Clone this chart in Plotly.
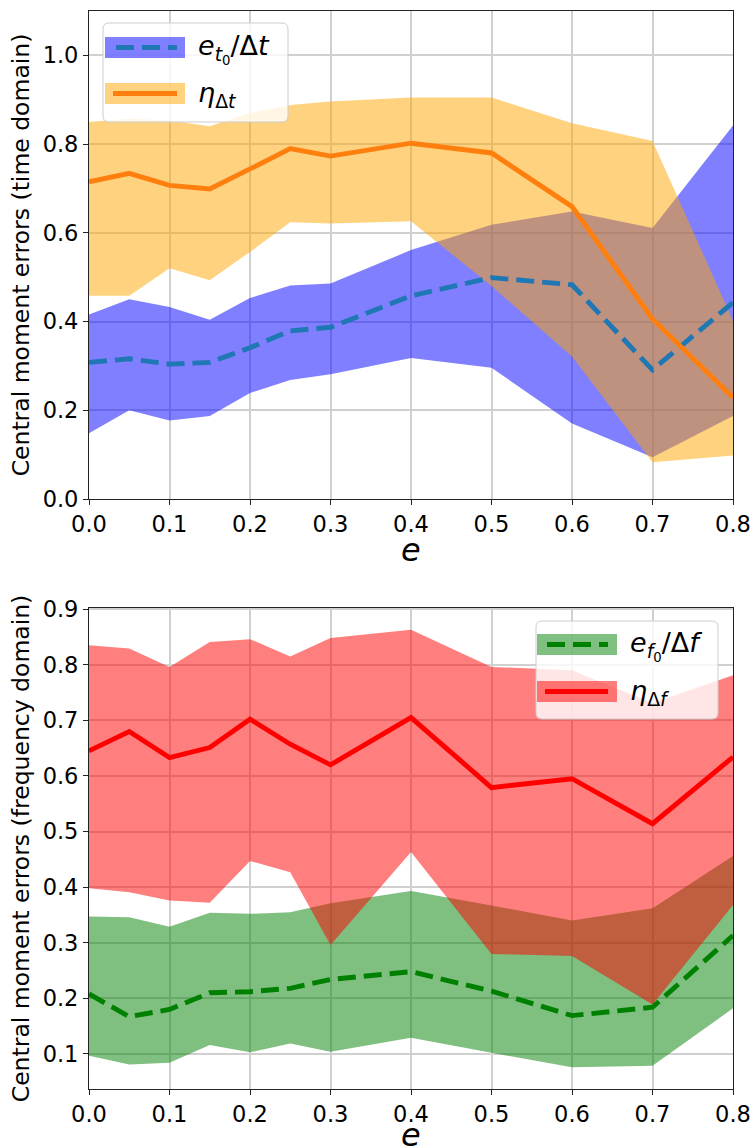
import plotly.graph_objects as go

# ---------------- data ----------------
e = [0.0, 0.05, 0.1, 0.15, 0.2, 0.25, 0.3, 0.4, 0.5, 0.6, 0.7, 0.8]

# time domain
et_mean = [0.308, 0.316, 0.304, 0.308, 0.341, 0.379, 0.387, 0.458, 0.499, 0.483, 0.291, 0.443]
et_low = [0.148, 0.200, 0.177, 0.187, 0.239, 0.268, 0.281, 0.318, 0.296, 0.170, 0.094, 0.187]
et_high = [0.416, 0.450, 0.433, 0.404, 0.453, 0.481, 0.486, 0.561, 0.618, 0.648, 0.611, 0.842]

eta_t = [0.715, 0.734, 0.707, 0.699, 0.744, 0.790, 0.773, 0.802, 0.780, 0.659, 0.406, 0.229]
eta_t_low = [0.458, 0.458, 0.520, 0.493, 0.557, 0.624, 0.621, 0.626, 0.480, 0.321, 0.083, 0.098]
eta_t_high = [0.850, 0.857, 0.853, 0.840, 0.870, 0.888, 0.896, 0.905, 0.905, 0.847, 0.807, 0.402]

# frequency domain
ef_mean = [0.208, 0.167, 0.180, 0.210, 0.212, 0.218, 0.234, 0.248, 0.213, 0.169, 0.184, 0.313]
ef_low = [0.097, 0.081, 0.084, 0.116, 0.103, 0.119, 0.104, 0.129, 0.102, 0.076, 0.079, 0.182]
ef_high = [0.347, 0.346, 0.329, 0.354, 0.352, 0.355, 0.371, 0.393, 0.367, 0.340, 0.362, 0.456]

eta_f = [0.645, 0.680, 0.633, 0.651, 0.702, 0.657, 0.620, 0.705, 0.579, 0.595, 0.514, 0.634]
eta_f_low = [0.398, 0.391, 0.376, 0.372, 0.447, 0.427, 0.296, 0.463, 0.280, 0.276, 0.189, 0.368]
eta_f_high = [0.835, 0.829, 0.796, 0.841, 0.846, 0.815, 0.848, 0.863, 0.796, 0.790, 0.731, 0.781]

x_ticks = [0.0, 0.1, 0.2, 0.3, 0.4, 0.5, 0.6, 0.7, 0.8]
y1_ticks = [0.0, 0.2, 0.4, 0.6, 0.8, 1.0]
y2_ticks = [0.1, 0.2, 0.3, 0.4, 0.5, 0.6, 0.7, 0.8, 0.9]

label_t1 = "<i>e</i><sub><i>t</i><sub>0</sub></sub>/Δ<i>t</i>"
label_t2 = "<i>η</i><sub>Δ<i>t</i></sub>"
label_f1 = "<i>e</i><sub><i>f</i><sub>0</sub></sub>/Δ<i>f</i>"
label_f2 = "<i>η</i><sub>Δ<i>f</i></sub>"
xlabel = "<i>e</i>"
ylabel_t = "Central moment errors (time domain)"
ylabel_f = "Central moment errors (frequency domain)"

# ---------------- geometry ----------------
W, H = 755, 1147
ML, MR, MT, MB = 89, 22, 11, 58
PW = W - ML - MR
PH = H - MT - MB
FONT = "DejaVu Sans"


def px(x):
    return (x - ML) / PW


def py(y):
    return (H - MB - y) / PH


BLUE_FILL = "rgba(0,0,255,0.5)"
ORANGE_FILL = "rgba(255,165,0,0.5)"
GREEN_FILL = "rgba(0,128,0,0.5)"
RED_FILL = "rgba(255,0,0,0.5)"
C_BLUE = "#1f77b4"
C_ORANGE = "#ff7f0e"
C_GREEN = "#008000"
C_RED = "#ff0000"
LW = 4.9
DASH = "18px,8px"

fig = go.Figure()


def band(x, lo, hi, color, xa, ya):
    fig.add_trace(go.Scatter(x=x, y=lo, mode="lines", line=dict(width=0, color=color),
                             showlegend=False, hoverinfo="skip", xaxis=xa, yaxis=ya))
    fig.add_trace(go.Scatter(x=x, y=hi, mode="lines", line=dict(width=0, color=color),
                             fill="tonexty", fillcolor=color, showlegend=False,
                             hoverinfo="skip", xaxis=xa, yaxis=ya))


band(e, et_low, et_high, BLUE_FILL, "x", "y")
band(e, eta_t_low, eta_t_high, ORANGE_FILL, "x", "y")
fig.add_trace(go.Scatter(x=e, y=et_mean, mode="lines", line=dict(color=C_BLUE, width=LW, dash=DASH),
                         showlegend=False, xaxis="x", yaxis="y"))
fig.add_trace(go.Scatter(x=e, y=eta_t, mode="lines", line=dict(color=C_ORANGE, width=LW),
                         showlegend=False, xaxis="x", yaxis="y"))

band(e, ef_low, ef_high, GREEN_FILL, "x2", "y2")
band(e, eta_f_low, eta_f_high, RED_FILL, "x2", "y2")
fig.add_trace(go.Scatter(x=e, y=ef_mean, mode="lines", line=dict(color=C_GREEN, width=LW, dash=DASH),
                         showlegend=False, xaxis="x2", yaxis="y2"))
fig.add_trace(go.Scatter(x=e, y=eta_f, mode="lines", line=dict(color=C_RED, width=LW),
                         showlegend=False, xaxis="x2", yaxis="y2"))

axis_common = dict(
    showline=True, mirror=True, linecolor="#222222", linewidth=1.1,
    ticks="outside", ticklen=5, tickwidth=1.1, tickcolor="#222222",
    showgrid=True, gridcolor="#d0d0d0", gridwidth=2, zeroline=False,
    tickfont=dict(family=FONT, size=22.5, color="black"),
    automargin=False,
)

fig.update_layout(
    width=W, height=H,
    margin=dict(l=ML, r=MR, t=MT, b=MB),
    paper_bgcolor="white", plot_bgcolor="white",
    showlegend=False,
    font=dict(family=FONT, color="black"),
    xaxis=dict(domain=[0, 1], anchor="y", range=[0, 0.8], tickvals=x_ticks, tickformat=".1f",
               **axis_common),
    yaxis=dict(domain=[py(499), 1], anchor="x", range=[0, 1.1], tickvals=y1_ticks, tickformat=".1f",
               title=dict(text=ylabel_t, font=dict(family=FONT, size=23.5), standoff=6),
               **axis_common),
    xaxis2=dict(domain=[0, 1], anchor="y2", range=[0, 0.8], tickvals=x_ticks, tickformat=".1f",
                **axis_common),
    yaxis2=dict(domain=[0, py(608)], anchor="x2", range=[0.037, 0.902], tickvals=y2_ticks, tickformat=".1f",
                title=dict(text=ylabel_f, font=dict(family=FONT, size=23.5), standoff=6),
                **axis_common),
)


def rounded_rect(x0, y0, x1, y1, r):
    pts = [
        ("M", [(x0 + r, y0)]), ("L", [(x1 - r, y0)]), ("Q", [(x1, y0), (x1, y0 + r)]),
        ("L", [(x1, y1 - r)]), ("Q", [(x1, y1), (x1 - r, y1)]), ("L", [(x0 + r, y1)]),
        ("Q", [(x0, y1), (x0, y1 - r)]), ("L", [(x0, y0 + r)]), ("Q", [(x0, y0), (x0 + r, y0)]),
    ]
    s = ""
    for cmd, ps in pts:
        s += cmd + " " + " ".join(f"{px(a):.5f},{py(b):.5f}" for a, b in ps) + " "
    return s + "Z"


shapes = []
annotations = []

# x-axis titles
for yc in (550, 1135):
    annotations.append(dict(text=xlabel, xref="paper", yref="paper", x=0.5, y=py(yc),
                            xanchor="center", yanchor="middle", showarrow=False,
                            height=22, valign="middle",
                            font=dict(family=FONT, size=32, color="black")))


def legend(box, items):
    bx0, by0, bx1, by1 = box
    shapes.append(dict(type="path", path=rounded_rect(bx0, by0, bx1, by1, 6), xref="paper", yref="paper",
                       fillcolor="rgba(255,255,255,0.8)", line=dict(color="#cccccc", width=1), layer="above"))
    for (hx0, hy0, hx1, hy1, fill, lcolor, dash, lx0, lx1, tx, text) in items:
        shapes.append(dict(type="rect", xref="paper", yref="paper", x0=px(hx0), x1=px(hx1), y0=py(hy1), y1=py(hy0),
                           fillcolor=fill, line=dict(width=0), layer="above"))
        ym = (hy0 + hy1) / 2
        shapes.append(dict(type="line", xref="paper", yref="paper", x0=px(lx0), x1=px(lx1), y0=py(ym), y1=py(ym),
                           line=dict(color=lcolor, width=LW, dash=dash), layer="above"))
        annotations.append(dict(text=text, xref="paper", yref="paper", x=px(tx), y=py(ym + 1),
                                xanchor="left", yanchor="middle", showarrow=False,
                                font=dict(family=FONT, size=27, color="black")))


legend((103, 23, 288, 122), [
    (105, 37, 185, 58, BLUE_FILL, C_BLUE, DASH, 116, 177, 196, label_t1),
    (105, 83, 185, 104, ORANGE_FILL, C_ORANGE, "solid", 113, 177, 196, label_t2),
])
legend((536, 621, 718, 719), [
    (537, 634, 617, 655, GREEN_FILL, C_GREEN, DASH, 547, 608, 628, label_f1),
    (537, 681, 617, 702, RED_FILL, C_RED, "solid", 545, 608, 628, label_f2),
])

fig.update_layout(shapes=shapes, annotations=annotations)

fig.write_html("out.html", config={"displayModeBar": False},
               post_script="document.body.style.margin='0px';document.body.style.overflow='hidden';")
